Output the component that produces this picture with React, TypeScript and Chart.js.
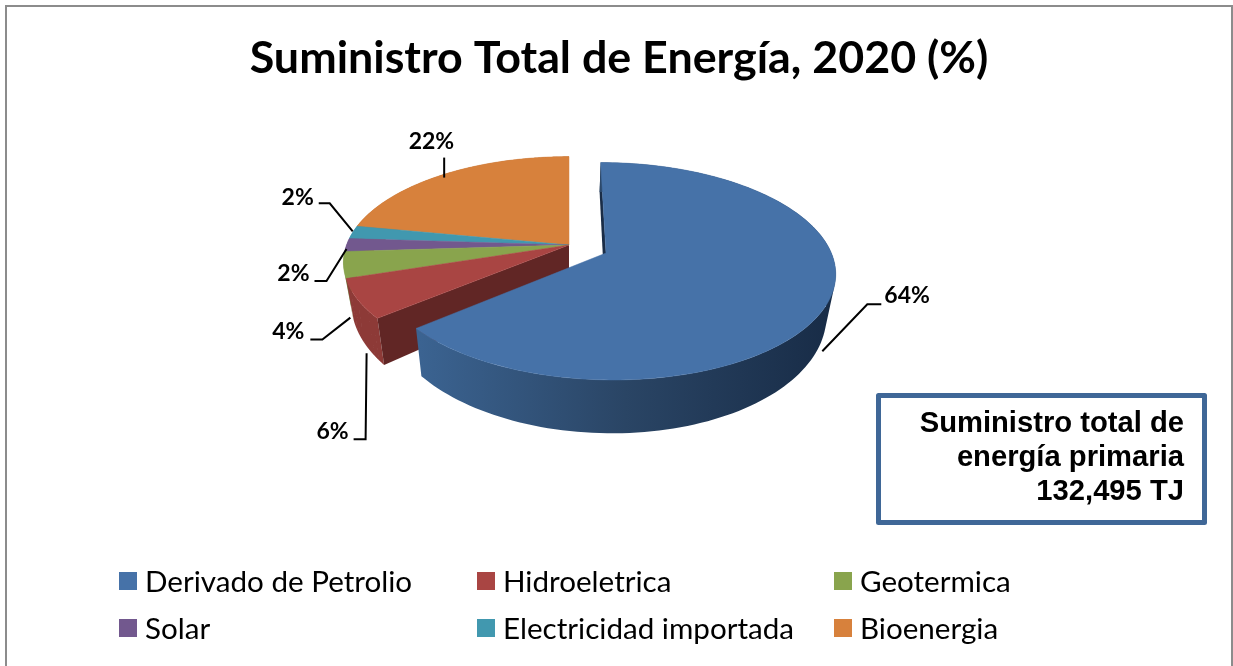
import React, { useEffect, useRef } from "react";
import { Chart, registerables } from "chart.js";

Chart.register(...registerables);

const categories = ["Derivado de Petrolio", "Hidroeletrica", "Geotermica", "Solar", "Electricidad importada", "Bioenergia"];
const shares = [64, 6, 4, 2, 2, 22];
const colors = ["#4672a8", "#a94543", "#89a44d", "#72588e", "#4198af", "#d7813c"];
const wallColors = ["#2b4565", "#8d3a37", "#6f863f", "#5b4672", "#34798c", "#ac6730"];
const faceColors = ["#1a2d47", "#612625", "#55662f", "#463657", "#285e6c", "#854f25"];
const offsets = [41, 0, 0, 0, 0, 0];
const titleText = "Suministro Total de Energía, 2020 (%)";
const noteLines = ["Suministro total de", "energía primaria", "132,495 TJ"];

const FONT = "Lato, Carlito, sans-serif";
const CX = 569, CY = 245, RX = 222.5, AY = 103, K = 0.165;
const SHRINK = 0.965, STRETCH = 0.11, DEPTH = 38.5;
const PIE_R = 226;

const leaders = [
  { t: 1, start: [3, 5], elbow: [45, -47], tail: 14, text: [3, -9], align: "left" },
  { t: 1, start: [2, 10], elbow: [-1, 86], tail: -12, text: [-5, -8], align: "right" },
  { t: 1, start: [-1, 12], elbow: [-28, 22], tail: -12, text: [-6, -8], align: "right" },
  { t: 0, start: [0, 4], elbow: [-20, 32], tail: -12, text: [-5, -7], align: "right" },
  { t: 0, start: [0, -1], elbow: [-23, -28], tail: -11, text: [-5, -6], align: "right" },
  { t: 0, start: [1, 3], elbow: [0, -20], tail: 0, text: [10, -16], align: "right" },
];

function project(u: number, v: number, level: number) {
  const w = 1 - K * v;
  const x0 = CX + (RX * u) / w;
  const y0 = CY + (AY * v) / w;
  const x1 = CX + SHRINK * (x0 - CX);
  const y1 = y0 + DEPTH + STRETCH * (y0 - CY);
  return [x0 + (x1 - x0) * level, y0 + (y1 - y0) * level];
}

function sliceFrame(arc: any) {
  const mid = (arc.startAngle + arc.endAngle) / 2;
  const off = (arc.options.offset || 0) / PIE_R;
  return { du: off * Math.cos(mid), dv: off * Math.sin(mid), mid };
}

function ringPoint(arc: any, a: number, level: number, frac = 1) {
  const { du, dv } = sliceFrame(arc);
  return project(du + frac * Math.cos(a), dv + frac * Math.sin(a), level);
}

function addPoly(ctx: CanvasRenderingContext2D, pts: number[][]) {
  pts.forEach((p, i) => (i ? ctx.lineTo(p[0], p[1]) : ctx.moveTo(p[0], p[1])));
  ctx.closePath();
}

function drawFace(ctx: CanvasRenderingContext2D, arc: any, a: number, color: string) {
  ctx.beginPath();
  addPoly(ctx, [ringPoint(arc, a, 0, 0), ringPoint(arc, a, 0), ringPoint(arc, a, 1), ringPoint(arc, a, 1, 0)]);
  ctx.fillStyle = color;
  ctx.fill();
}

function drawWall(ctx: CanvasRenderingContext2D, arc: any, paint: any) {
  const steps = 140;
  ctx.fillStyle = paint;
  ctx.beginPath();
  for (let i = 0; i < steps; i++) {
    const a0 = arc.startAngle + ((arc.endAngle - arc.startAngle) * i) / steps;
    const a1 = arc.startAngle + ((arc.endAngle - arc.startAngle) * (i + 1)) / steps;
    const quad = [ringPoint(arc, a0, 0), ringPoint(arc, a1, 0), ringPoint(arc, a1, 1), ringPoint(arc, a0, 1)];
    let area = 0;
    quad.forEach((p, j) => {
      const q = quad[(j + 1) % 4];
      area += p[0] * q[1] - q[0] * p[1];
    });
    addPoly(ctx, area < 0 ? quad.reverse() : quad);
  }
  ctx.fill("nonzero");
}

function drawTop(ctx: CanvasRenderingContext2D, arc: any, color: string) {
  const steps = 200;
  const pts = [ringPoint(arc, arc.startAngle, 0, 0)];
  for (let i = 0; i <= steps; i++) {
    pts.push(ringPoint(arc, arc.startAngle + ((arc.endAngle - arc.startAngle) * i) / steps, 0));
  }
  ctx.beginPath();
  addPoly(ctx, pts);
  ctx.fillStyle = color;
  ctx.strokeStyle = color;
  ctx.lineWidth = 0.5;
  ctx.fill();
  ctx.stroke();
}

const pie3d = {
  id: "pie3d",
  beforeDraw(chart: any) {
    const ctx = chart.ctx as CanvasRenderingContext2D;
    ctx.save();
    ctx.fillStyle = "#ffffff";
    ctx.fillRect(0, 0, chart.width, chart.height);
    ctx.fillStyle = "#8c8c8c";
    ctx.fillRect(5, 5, 1228, 2);
    ctx.fillRect(5, 5, 2, 661);
    ctx.fillRect(1231, 5, 2, 661);
    ctx.restore();
  },
  beforeDatasetsDraw(chart: any) {
    const ctx = chart.ctx as CanvasRenderingContext2D;
    const arcs = chart.getDatasetMeta(0).data;
    ctx.save();
    const wallGrad = ctx.createLinearGradient(420, 0, 830, 0);
    wallGrad.addColorStop(0, "#3b6391");
    wallGrad.addColorStop(0.5, "#2a4565");
    wallGrad.addColorStop(1, "#182c47");

    // Slices that stay in the ring, back to front, then the pulled-out slice.
    for (let i = arcs.length - 1; i >= 1; i--) drawWall(ctx, arcs[i], wallColors[i]);
    drawFace(ctx, arcs[1], arcs[1].startAngle, faceColors[1]);
    for (let i = arcs.length - 1; i >= 1; i--) drawTop(ctx, arcs[i], colors[i]);

    drawFace(ctx, arcs[0], arcs[0].startAngle, faceColors[0]);
    drawWall(ctx, arcs[0], wallGrad);
    drawTop(ctx, arcs[0], colors[0]);

    // Leader lines and value labels.
    ctx.strokeStyle = "#000000";
    ctx.fillStyle = "#000000";
    ctx.lineWidth = 2;
    ctx.font = `bold 23px ${FONT}`;
    ctx.textBaseline = "middle";
    arcs.forEach((arc: any, i: number) => {
      const l = leaders[i];
      const { mid } = sliceFrame(arc);
      const a = ringPoint(arc, mid, l.t);
      const s = [a[0] + l.start[0], a[1] + l.start[1]];
      const e = [s[0] + l.elbow[0], s[1] + l.elbow[1]];
      const tx = e[0] + l.tail;
      ctx.beginPath();
      ctx.moveTo(s[0], s[1]);
      ctx.lineTo(e[0], e[1]);
      ctx.lineTo(tx, e[1]);
      ctx.stroke();
      ctx.textAlign = l.align as CanvasTextAlign;
      ctx.fillText(`${shares[i]}%`, tx + l.text[0], e[1] + l.text[1]);
    });
    ctx.restore();
    return false;
  },
  afterDraw(chart: any) {
    const ctx = chart.ctx as CanvasRenderingContext2D;
    ctx.save();
    // Note box.
    ctx.strokeStyle = "#3f6797";
    ctx.lineWidth = 5;
    ctx.lineJoin = "round";
    ctx.strokeRect(878.5, 395.5, 326, 127);
    ctx.fillStyle = "#000000";
    ctx.font = 'bold 29.2px "Liberation Sans", Arial, sans-serif';
    ctx.textAlign = "right";
    ctx.textBaseline = "middle";
    noteLines.forEach((line, i) => ctx.fillText(line, 1184, 424 + i * 34));

    // Legend on a three-column grid.
    const colX = [119, 477, 834];
    const rowY = [581, 628];
    ctx.font = `29.6px ${FONT}`;
    ctx.textAlign = "left";
    categories.forEach((name, i) => {
      const x = colX[i % 3];
      const y = rowY[Math.floor(i / 3)];
      ctx.fillStyle = colors[i];
      ctx.fillRect(x, y - 9, 18, 18);
      ctx.fillStyle = "#000000";
      ctx.fillText(name, x + 26, y + 1);
    });
    ctx.restore();
  },
};

export default function App() {
  const ref = useRef<HTMLCanvasElement | null>(null);
  useEffect(() => {
    if (!ref.current) return;
    const chart = new Chart(ref.current, {
      type: "pie",
      data: {
        labels: categories,
        datasets: [{ data: shares, backgroundColor: colors, offset: offsets, borderWidth: 0 }],
      },
      options: {
        responsive: false,
        devicePixelRatio: 1,
        animation: false,
        events: [],
        radius: PIE_R,
        layout: { padding: { left: 5, right: 0, top: 0, bottom: 0 } },
        plugins: {
          legend: { display: false },
          tooltip: { enabled: false },
          title: {
            display: true,
            text: titleText,
            color: "#000000",
            font: { family: FONT, size: 44.8, weight: "bold" },
            padding: { top: 32, bottom: 10 },
          },
        },
      },
      plugins: [pie3d],
    } as any);
    return () => chart.destroy();
  }, []);
  return (
    <div style={{ position: "fixed", left: 0, top: 0, width: 1233, height: 666 }}>
      <canvas ref={ref} width={1233} height={666} style={{ display: "block" }} />
    </div>
  );
}
